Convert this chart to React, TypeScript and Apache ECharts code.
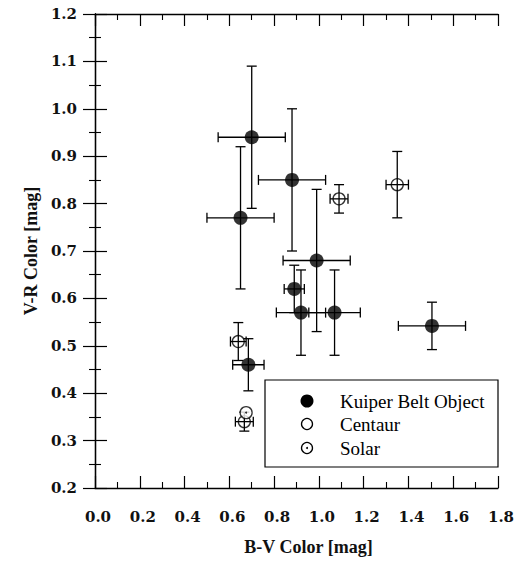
import React, { useEffect, useRef } from "react";
import * as echarts from "echarts";

// Kuiper Belt Objects: B-V, V-R, errors
const kboBV = [0.70, 0.65, 0.88, 0.99, 0.89, 0.92, 1.07, 1.505, 0.685];
const kboVR = [0.94, 0.77, 0.85, 0.68, 0.62, 0.57, 0.57, 0.542, 0.46];
const kboBVErr = [0.15, 0.15, 0.15, 0.15, 0.045, 0.11, 0.115, 0.15, 0.07];
const kboVRErr = [0.15, 0.15, 0.15, 0.15, 0.05, 0.09, 0.09, 0.05, 0.055];

// Centaurs
const cenBV = [1.09, 1.35, 0.64, 0.667];
const cenVR = [0.81, 0.84, 0.509, 0.34];
const cenBVErr = [0.04, 0.05, 0.035, 0.04];
const cenVRErr = [0.03, 0.07, 0.04, 0.02];

// Solar colours
const solBV = [0.675];
const solVR = [0.359];

const legendNames = ["Kuiper Belt Object", "Centaur", "Solar"];
const xTitle = "B-V Color [mag]";
const yTitle = "V-R Color [mag]";

const tickFont = "DejaVu Serif";
const titleFont = "Liberation Serif";

export default function App() {
  const ref = useRef<HTMLDivElement>(null);

  useEffect(() => {
    if (!ref.current) return;
    const chart = echarts.init(ref.current, undefined, { renderer: "svg" });

    const errData = [
      ...kboBV.map((x, i) => [x, kboVR[i], kboBVErr[i], kboVRErr[i]]),
      ...cenBV.map((x, i) => [x, cenVR[i], cenBVErr[i], cenVRErr[i]]),
    ];

    const axisLine = { show: true, lineStyle: { color: "#000", width: 1.3 } };
    const tick = { show: true, inside: true, length: 12, lineStyle: { color: "#000", width: 1.2 } };
    const minor = { show: true, splitNumber: 2, length: 6, lineStyle: { color: "#000", width: 1.1 } };
    const label = {
      fontFamily: tickFont,
      fontWeight: "bold" as const,
      fontSize: 15,
      color: "#111",
      formatter: (v: number) => v.toFixed(1),
    };

    const LX = 265, LY = 380, LW = 233, LH = 87;
    const rowY = [401, 424, 448];
    const symX = 307;
    const txtX = 340;
    const textStyle = (t: string, y: number) => ({
      type: "text",
      x: txtX,
      y,
      style: { text: t, fontFamily: titleFont, fontSize: 19, fill: "#000", verticalAlign: "middle", align: "left" },
      z: 101,
    });

    chart.setOption({
      animation: false,
      backgroundColor: "#fff",
      grid: { left: 95, right: 23, top: 14, bottom: 74 },
      xAxis: [
        {
          type: "value",
          min: 0,
          max: 1.8,
          interval: 0.2,
          position: "bottom",
          axisLine,
          axisTick: tick,
          minorTick: minor,
          splitLine: { show: false },
          axisLabel: { ...label, margin: 21, padding: [0, 0, 0, 6] },
          name: xTitle,
          nameLocation: "middle",
          nameGap: 50,
          nameTextStyle: {
            fontFamily: titleFont,
            fontWeight: "bold",
            fontSize: 18,
            color: "#111",
            padding: [0, 0, 0, 24],
          },
        },
        {
          type: "value",
          min: 0,
          max: 1.8,
          interval: 0.2,
          position: "top",
          axisLine,
          axisTick: tick,
          minorTick: minor,
          splitLine: { show: false },
          axisLabel: { show: false },
        },
      ],
      yAxis: [
        {
          type: "value",
          min: 0.2,
          max: 1.2,
          interval: 0.1,
          position: "left",
          axisLine,
          axisTick: tick,
          minorTick: minor,
          splitLine: { show: false },
          axisLabel: { ...label, margin: 18, padding: [7, 0, 0, 0] },
          name: yTitle,
          nameLocation: "middle",
          nameGap: 50,
          nameRotate: 90,
          nameTextStyle: { fontFamily: titleFont, fontWeight: "bold", fontSize: 18, color: "#111" },
        },
        {
          type: "value",
          min: 0.2,
          max: 1.2,
          interval: 0.1,
          position: "right",
          axisLine,
          axisTick: tick,
          minorTick: minor,
          splitLine: { show: false },
          axisLabel: { show: false },
        },
      ],
      series: [
        {
          type: "custom",
          name: "errors",
          silent: true,
          z: 2,
          encode: { x: 0, y: 1 },
          data: errData,
          renderItem: (params: any, api: any) => {
            const x = api.value(0), y = api.value(1), ex = api.value(2), ey = api.value(3);
            const l = api.coord([x - ex, y]);
            const r = api.coord([x + ex, y]);
            const t = api.coord([x, y + ey]);
            const b = api.coord([x, y - ey]);
            const c = 5;
            const style = { stroke: "#000", lineWidth: 1.3 };
            return {
              type: "group",
              children: [
                { type: "line", shape: { x1: l[0], y1: l[1], x2: r[0], y2: r[1] }, style },
                { type: "line", shape: { x1: l[0], y1: l[1] - c, x2: l[0], y2: l[1] + c }, style },
                { type: "line", shape: { x1: r[0], y1: r[1] - c, x2: r[0], y2: r[1] + c }, style },
                { type: "line", shape: { x1: t[0], y1: t[1], x2: b[0], y2: b[1] }, style },
                { type: "line", shape: { x1: t[0] - c, y1: t[1], x2: t[0] + c, y2: t[1] }, style },
                { type: "line", shape: { x1: b[0] - c, y1: b[1], x2: b[0] + c, y2: b[1] }, style },
              ],
            };
          },
        },
        {
          type: "scatter",
          name: legendNames[0],
          z: 3,
          symbol: "circle",
          symbolSize: 14,
          itemStyle: { color: "#000" },
          data: kboBV.map((x, i) => [x, kboVR[i]]),
        },
        {
          type: "scatter",
          name: legendNames[1],
          z: 4,
          symbol: "circle",
          symbolSize: 12,
          itemStyle: { color: "rgba(0,0,0,0)", borderColor: "#000", borderWidth: 1.3 },
          data: cenBV.map((x, i) => [x, cenVR[i]]),
        },
        {
          type: "scatter",
          name: legendNames[2],
          z: 5,
          symbol: "circle",
          symbolSize: 12,
          itemStyle: { color: "#fff", borderColor: "#000", borderWidth: 1.3 },
          data: solBV.map((x, i) => [x, solVR[i]]),
        },
        {
          type: "scatter",
          name: "solar-dot",
          z: 6,
          symbol: "circle",
          symbolSize: 2,
          itemStyle: { color: "#000" },
          data: solBV.map((x, i) => [x, solVR[i]]),
        },
      ],
      graphic: [
        {
          type: "rect",
          shape: { x: LX, y: LY, width: LW, height: LH },
          style: { fill: "#fff", stroke: "#000", lineWidth: 1.2 },
          z: 100,
        },
        { type: "circle", shape: { cx: symX, cy: rowY[0], r: 6.5 }, style: { fill: "#000" }, z: 101 },
        { type: "circle", shape: { cx: symX, cy: rowY[1], r: 5.5 }, style: { fill: "#fff", stroke: "#000", lineWidth: 1.3 }, z: 101 },
        { type: "circle", shape: { cx: symX, cy: rowY[2], r: 5.5 }, style: { fill: "#fff", stroke: "#000", lineWidth: 1.3 }, z: 101 },
        { type: "circle", shape: { cx: symX, cy: rowY[2], r: 1 }, style: { fill: "#000" }, z: 102 },
        textStyle(legendNames[0], rowY[0]),
        textStyle(legendNames[1], rowY[1]),
        textStyle(legendNames[2], rowY[2]),
      ],
    });

    return () => chart.dispose();
  }, []);

  return (
    <div
      ref={ref}
      style={{ position: "fixed", left: 0, top: 0, width: 521, height: 562, background: "#fff" }}
    />
  );
}
